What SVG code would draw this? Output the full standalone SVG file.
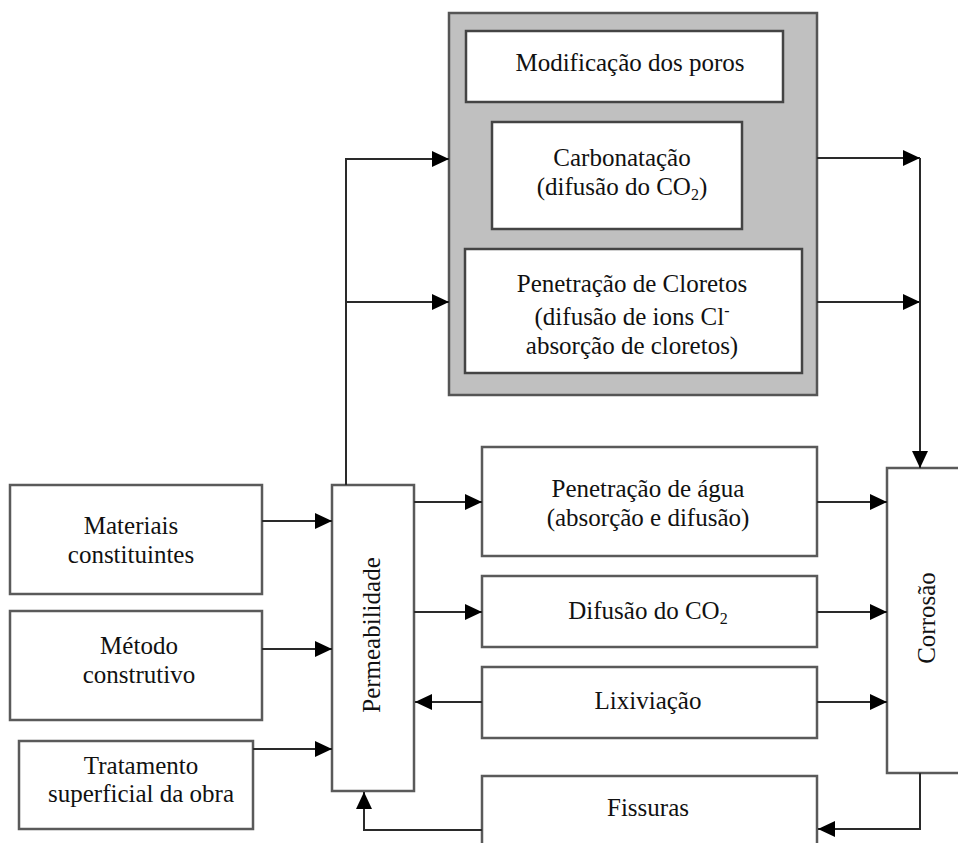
<svg xmlns="http://www.w3.org/2000/svg" width="958" height="843" viewBox="0 0 958 843">
  <defs>
    <marker id="arrow" markerUnits="userSpaceOnUse" markerWidth="17" markerHeight="16" refX="17" refY="8" orient="auto">
      <path d="M0,0 L17,8 L0,16 z" fill="#000"/>
    </marker>
    <style>
      .box { fill: #fff; stroke: #5a5a5a; stroke-width: 2.5; }
      .inner { fill: #fff; stroke: #444; stroke-width: 2.5; }
      .group { fill: #c0c0c0; stroke: #555; stroke-width: 2.5; }
      .lbl { font-family: "Liberation Serif", "Times New Roman", serif; font-size: 25px; fill: #111; text-anchor: middle; }
      .sub { font-size: 16px; }
      .wire { fill: none; stroke: #2a2a2a; stroke-width: 2; marker-end: url(#arrow); }
      .wire-plain { fill: none; stroke: #2a2a2a; stroke-width: 2; }
    </style>
  </defs>

  <rect width="958" height="843" fill="#fff"/>

  <!-- grouped transport mechanisms -->
  <g id="mecanismos">
    <rect class="group" x="449" y="13" width="368" height="382"/>
  </g>
  <g id="modificacao">
    <rect class="inner" x="466" y="31" width="317" height="71"/>
    <text class="lbl" x="630" y="71">Modificação dos poros</text>
  </g>
  <g id="carbonatacao">
    <rect class="inner" x="492" y="122" width="250" height="107"/>
    <text class="lbl" x="622" y="166">Carbonatação</text>
    <text class="lbl" x="622" y="195">(difusão do CO<tspan class="sub" dy="5">2</tspan><tspan dy="-5">)</tspan></text>
  </g>
  <g id="cloretos">
    <rect class="inner" x="465" y="249" width="337" height="124"/>
    <text class="lbl" x="632" y="292">Penetração de Cloretos</text>
    <text class="lbl" x="632" y="325">(difusão de ions Cl<tspan class="sub" dy="-9">-</tspan></text>
    <text class="lbl" x="632" y="354">absorção de cloretos)</text>
  </g>

  <!-- influencing factors -->
  <g id="materiais">
    <rect class="box" x="10" y="485" width="252" height="109"/>
    <text class="lbl" x="131" y="534">Materiais</text>
    <text class="lbl" x="131" y="563">constituintes</text>
  </g>
  <g id="metodo">
    <rect class="box" x="10" y="611" width="252" height="109"/>
    <text class="lbl" x="139" y="654">Método</text>
    <text class="lbl" x="139" y="683">construtivo</text>
  </g>
  <g id="tratamento">
    <rect class="box" x="19" y="741" width="234" height="88"/>
    <text class="lbl" x="141" y="774">Tratamento</text>
    <text class="lbl" x="141" y="802">superficial da obra</text>
  </g>

  <g id="permeabilidade">
    <rect class="box" x="332" y="485" width="82" height="306"/>
    <text class="lbl" transform="translate(380 635) rotate(-90)">Permeabilidade</text>
  </g>

  <!-- processes -->
  <g id="agua">
    <rect class="box" x="482" y="447" width="335" height="109"/>
    <text class="lbl" x="648" y="497">Penetração de água</text>
    <text class="lbl" x="648" y="526">(absorção e difusão)</text>
  </g>
  <g id="difusao">
    <rect class="box" x="482" y="576" width="335" height="71"/>
    <text class="lbl" x="648" y="619">Difusão do CO<tspan class="sub" dy="5">2</tspan></text>
  </g>
  <g id="lixiviacao">
    <rect class="box" x="482" y="667" width="335" height="71"/>
    <text class="lbl" x="648" y="709">Lixiviação</text>
  </g>
  <g id="fissuras">
    <rect class="box" x="482" y="776" width="335" height="80"/>
    <text class="lbl" x="648" y="816">Fissuras</text>
  </g>

  <g id="corrosao">
    <rect class="box" x="887" y="468" width="80" height="305"/>
    <text class="lbl" transform="translate(935 618) rotate(-90)">Corrosão</text>
  </g>

  <!-- connectors -->
  <g id="connectors">
    <path class="wire" d="M346,485 V159 H449"/>
    <path class="wire" d="M346,302 H449"/>
    <path class="wire" d="M817,158 H920"/>
    <path class="wire" d="M817,302 H920"/>
    <path class="wire" d="M920,158 V468"/>
    <path class="wire" d="M262,521 H332"/>
    <path class="wire" d="M262,649 H332"/>
    <path class="wire" d="M253,749 H332"/>
    <path class="wire" d="M414,502 H482"/>
    <path class="wire" d="M414,612 H482"/>
    <path class="wire" d="M482,702 H415"/>
    <path class="wire" d="M817,502 H887"/>
    <path class="wire" d="M817,612 H887"/>
    <path class="wire" d="M817,702 H887"/>
    <path class="wire" d="M920,773 V829 H818"/>
    <path class="wire" d="M482,830 H364 V792"/>
  </g>
</svg>
